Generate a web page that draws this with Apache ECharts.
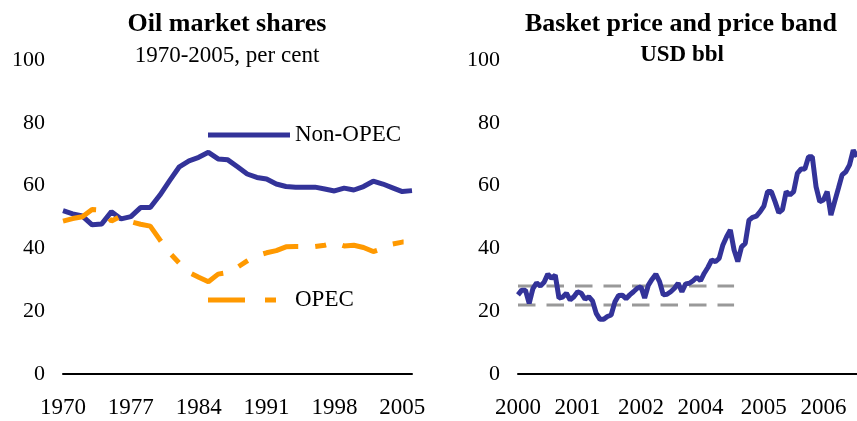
<!DOCTYPE html>
<head>
    <meta charset="utf-8">
    <title>ECharts</title>
</head>
<body style="margin:0">

<div id="main" style="height:421px;width:857px"></div>
<script src="https://cdn.jsdelivr.net/npm/echarts@6/dist/echarts.min.js"></script>

<script type="text/javascript">
// left panel: market shares, per cent
var shareYears = ['1970','1971','1972','1973','1974','1975','1976','1977','1978','1979',
    '1980','1981','1982','1983','1984','1985','1986','1987','1988','1989',
    '1990','1991','1992','1993','1994','1995','1996','1997','1998','1999',
    '2000','2001','2002','2003','2004','2005','2006'];
var nonOpec = [52.0, 51.0, 50.3, 47.5, 47.8, 51.7, 49.4, 50.1, 53.0, 53.0,
    57.0, 61.6, 66.0, 67.9, 69.0, 70.6, 68.5, 68.2, 66.0, 63.7,
    62.6, 62.1, 60.5, 59.7, 59.5, 59.5, 59.5, 58.9, 58.3, 59.2,
    58.6, 59.7, 61.4, 60.5, 59.3, 58.1, 58.4];
var opec = [48.7, 49.5, 50.1, 52.4, 52.2, 48.7, 50.3, 48.5, 47.7, 47.1,
    42.7, 38.6, 35.3, 32.3, 30.8, 29.4, 31.8, 32.3, 34.0, 36.0,
    37.7, 38.6, 39.3, 40.5, 40.6, 40.6, 40.6, 41.0, 41.8, 40.8,
    41.0, 40.3, 39.0, 40.0, 41.4, 42.0, 42.0];

// right panel: monthly basket price, Jan 2000 - Aug 2007
var priceYears = ['2000','2001','2002','2003','2004','2005','2006','2007'];
var basket = [25.2, 26.7, 26.7, 22.5, 27.2, 29.0, 28.0, 29.2, 31.8, 30.5, 31.5, 24.2,
    24.5, 25.7, 23.6, 24.6, 26.2, 25.7, 23.8, 24.6, 23.3, 19.3, 17.4, 17.4,
    18.3, 18.8, 22.9, 25.0, 25.1, 24.0, 25.2, 26.2, 27.3, 27.8, 24.2, 28.3,
    30.2, 31.8, 29.4, 25.2, 25.4, 26.2, 27.3, 28.9, 26.2, 28.7, 28.9, 29.7,
    30.8, 29.7, 32.1, 34.0, 36.3, 35.8, 36.8, 41.1, 43.7, 45.9, 39.5, 35.8,
    40.5, 41.6, 49.0, 49.9, 50.3, 51.7, 53.5, 58.1, 58.1, 54.9, 51.4, 52.4,
    58.1, 57.0, 58.1, 63.9, 65.3, 65.3, 69.2, 69.2, 59.7, 54.9, 55.4, 58.1,
    50.6, 54.9, 59.1, 63.4, 64.4, 66.6, 71.3, 69.2];
var bandLow = 22;
var bandHigh = 28;
var bandLastIdx = 58;
var priceLabelIdx = [0, 16, 33, 49, 66, 82];

var months = [];
priceYears.forEach(function (y) {
    for (var m = 1; m <= 12; m++) {
        if (months.length < basket.length) months.push(y + '-' + (m < 10 ? '0' + m : m));
    }
});
var bandUpper = months.map(function (m, i) { return i <= bandLastIdx ? bandHigh : null; });
var bandLower = months.map(function (m, i) { return i <= bandLastIdx ? bandLow : null; });

var FONT = 'Liberation Serif';
var BLUE = '#333399';
var ORANGE = '#FF9900';
var LW = 5;
var OPEC_DASH = [36, 17, 11, 17];

function yAx(idx) {
    return {
        type: 'value', gridIndex: idx, min: 0, max: 100, interval: 20,
        axisLine: { show: false }, axisTick: { show: false }, splitLine: { show: false },
        axisLabel: { color: '#000', fontFamily: FONT, fontSize: 22, margin: 18 }
    };
}
function xAx(idx, cats, interval, fmt) {
    return {
        type: 'category', gridIndex: idx, data: cats, boundaryGap: false,
        axisLine: { lineStyle: { color: '#000', width: 2 } },
        axisTick: { show: false },
        axisLabel: { color: '#000', fontFamily: FONT, fontSize: 23, margin: 22,
            interval: interval, formatter: fmt }
    };
}
// legend key drawn as an icon spanning 82 x 5 px
function leg(name, top, icon) {
    return {
        data: [{ name: name, icon: icon }], left: 208, top: top, padding: 0, selectedMode: false,
        itemWidth: 82, itemHeight: LW,
        textStyle: { fontFamily: FONT, fontSize: 23, color: '#000', lineHeight: 26 }
    };
}

var myChart = echarts.init(document.getElementById('main'));
var option = {
    animation: false,
    title: [
        { text: 'Oil market shares', left: 222, top: 6, textAlign: 'center',
          textStyle: { fontFamily: FONT, fontSize: 26, fontWeight: 'bold', color: '#000', lineHeight: 26 } },
        { text: '1970-2005, per cent', left: 222, top: 39, textAlign: 'center',
          textStyle: { fontFamily: FONT, fontSize: 23, fontWeight: 'normal', color: '#000', lineHeight: 23 } },
        { text: 'Basket price and price band', left: 676, top: 6, textAlign: 'center',
          textStyle: { fontFamily: FONT, fontSize: 26, fontWeight: 'bold', color: '#000', lineHeight: 26 } },
        { text: 'USD bbl', left: 677, top: 39, textAlign: 'center',
          textStyle: { fontFamily: FONT, fontSize: 23, fontWeight: 'bold', color: '#000', lineHeight: 23 } }
    ],
    legend: [
        leg('Non-OPEC', 122, 'rect'),
        leg('OPEC', 287, 'path://M0,0h37v5h-37z M57,0h11v5h-11z M82,0v5')
    ],
    grid: [
        { left: 63, top: 60, width: 349, height: 314 },
        { left: 518, top: 60, width: 339, height: 314 }
    ],
    xAxis: [
        xAx(0, shareYears, 6),
        xAx(1, months, function (i) { return priceLabelIdx.indexOf(i) >= 0; },
            function (v) { return v.slice(0, 4); })
    ],
    yAxis: [yAx(0), yAx(1)],
    series: [
        { name: 'Non-OPEC', type: 'line', xAxisIndex: 0, yAxisIndex: 0, data: nonOpec,
          symbol: 'none', color: BLUE, lineStyle: { color: BLUE, width: LW } },
        { name: 'OPEC', type: 'line', xAxisIndex: 0, yAxisIndex: 0, data: opec,
          symbol: 'none', color: ORANGE,
          lineStyle: { color: ORANGE, width: LW, type: OPEC_DASH, cap: 'butt' } },
        { name: 'band high', type: 'line', xAxisIndex: 1, yAxisIndex: 1, data: bandUpper,
          symbol: 'none', lineStyle: { color: '#999999', width: 3, type: [17.5, 11] } },
        { name: 'band low', type: 'line', xAxisIndex: 1, yAxisIndex: 1, data: bandLower,
          symbol: 'none', lineStyle: { color: '#999999', width: 3, type: [17.5, 11] } },
        { name: 'Basket', type: 'line', xAxisIndex: 1, yAxisIndex: 1, data: basket,
          symbol: 'none', lineStyle: { color: BLUE, width: LW } }
    ]
};
myChart.setOption(option);
window.onresize = myChart.resize;
</script>
</body>
